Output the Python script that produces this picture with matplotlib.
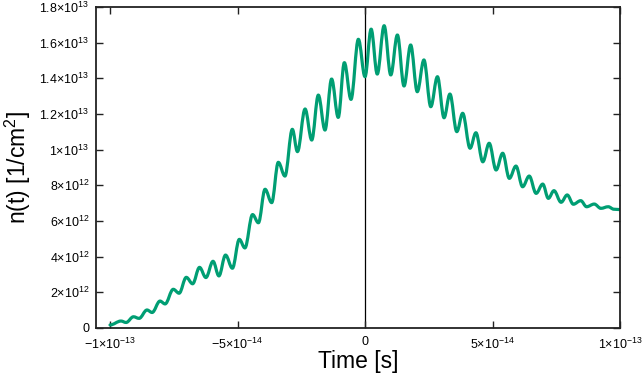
#!/usr/bin/python

"""
n(t) vs time, redrawn in gnuplot look
"""

import matplotlib
matplotlib.use("Agg")
import matplotlib.pyplot as plt
from matplotlib.path import Path
from matplotlib.patches import PathPatch
import numpy as np

plt.rcParams['font.family'] = ['Liberation Sans', 'DejaVu Sans']
plt.rcParams['mathtext.fontset'] = 'custom'
plt.rcParams['mathtext.rm'] = 'Liberation Sans'
plt.rcParams['mathtext.it'] = 'Liberation Sans:italic'
plt.rcParams['mathtext.bf'] = 'Liberation Sans:bold'

# time in units of 1e-13 s, density in units of 1e12 1/cm^2 (extrema)
t = [-1.000, -0.957, -0.937, -0.908, -0.886, -0.855, -0.835, -0.804, -0.784, -0.752,
     -0.729, -0.701, -0.676, -0.649, -0.624, -0.596, -0.573, -0.547, -0.520, -0.493,
     -0.471, -0.441, -0.418, -0.392, -0.366, -0.340, -0.314, -0.285, -0.265, -0.235,
     -0.209, -0.183, -0.157, -0.131, -0.105, -0.081, -0.055, -0.026, 0.000, 0.024,
     0.048, 0.075, 0.101, 0.127, 0.153, 0.179, 0.205, 0.231, 0.258, 0.284,
     0.310, 0.333, 0.360, 0.383, 0.412, 0.435, 0.462, 0.487, 0.514, 0.540,
     0.566, 0.592, 0.618, 0.644, 0.671, 0.697, 0.719, 0.741, 0.769, 0.793,
     0.817, 0.846, 0.869, 0.899, 0.925, 0.954, 0.976, 1.000]
n = [0.17, 0.39, 0.31, 0.63, 0.54, 1.01, 0.87, 1.51, 1.35, 2.17,
     1.95, 2.84, 2.48, 3.40, 2.83, 3.74, 2.92, 4.09, 3.35, 4.97,
     4.49, 6.36, 5.90, 7.78, 7.03, 9.29, 8.52, 11.14, 9.89, 12.28,
     10.54, 13.06, 11.10, 13.96, 11.81, 14.88, 12.82, 16.19, 14.09, 16.76,
     14.24, 16.95, 14.19, 16.43, 13.57, 15.87, 13.25, 15.03, 12.41, 14.09,
     11.79, 13.12, 11.01, 12.04, 10.08, 10.95, 9.32, 10.36, 8.86, 9.80,
     8.39, 9.08, 7.92, 8.52, 7.55, 8.07, 7.27, 7.70, 7.05, 7.46,
     6.94, 7.14, 6.80, 6.95, 6.71, 6.80, 6.66, 6.64]

xticks = [-1e-13, -5e-14, 0, 5e-14, 1e-13]
xticklabels = [r'$\mathregular{-1{\times}10^{-13}}$', r'$\mathregular{-5{\times}10^{-14}}$', '0',
               r'$\mathregular{5{\times}10^{-14}}$', r'$\mathregular{1{\times}10^{-13}}$']
yticks = [0, 2e12, 4e12, 6e12, 8e12, 1e13, 1.2e13, 1.4e13, 1.6e13, 1.8e13]
yticklabels = ['0', r'$\mathregular{2{\times}10^{12}}$', r'$\mathregular{4{\times}10^{12}}$',
               r'$\mathregular{6{\times}10^{12}}$', r'$\mathregular{8{\times}10^{12}}$',
               r'$\mathregular{1{\times}10^{13}}$', r'$\mathregular{1.2{\times}10^{13}}$',
               r'$\mathregular{1.4{\times}10^{13}}$', r'$\mathregular{1.6{\times}10^{13}}$',
               r'$\mathregular{1.8{\times}10^{13}}$']


def smooth_path(x, y, k=0.36):
	# cubic bezier between neighbouring extrema, flat tangent at each extremum
	verts = [(x[0], y[0])]
	codes = [Path.MOVETO]
	for i in range(len(x) - 1):
		dx = x[i+1] - x[i]
		verts += [(x[i] + k*dx, y[i]), (x[i+1] - k*dx, y[i+1]), (x[i+1], y[i+1])]
		codes += [Path.CURVE4] * 3
	return Path(verts, codes)


fig = plt.figure(figsize=(6.42, 3.79), dpi=100)
ax = fig.add_axes([96/642., 51/379., (620-96)/642., (328-7)/379.])

T = np.array(t) * 1e-13
N = np.array(n) * 1e12
ax.axvline(0, color='black', lw=0.9, zorder=1)
ax.add_patch(PathPatch(smooth_path(T, N), fill=False, edgecolor='#009e73', lw=2.3,
                       joinstyle='round', capstyle='round', zorder=2))

ax.set_xlim(-1.055e-13, 1e-13)
ax.set_ylim(0, 1.8e13)
ax.set_xticks(xticks)
ax.set_xticklabels(xticklabels, fontsize=9)
ax.set_yticks(yticks)
ax.set_yticklabels(yticklabels, fontsize=9)
ax.tick_params(direction='in', length=5, width=1, top=True, right=True, colors='#222222',
               labelcolor='black')
ax.tick_params(axis='x', pad=6)
ax.tick_params(axis='y', pad=5)
for s in ax.spines.values():
	s.set_linewidth(1.3)
	s.set_color('#222222')

ax.set_xlabel('Time [s]', fontsize=16.5, labelpad=-1)
ax.set_ylabel(r'n(t) [1/cm$^\mathregular{2}$]', fontsize=16.5, labelpad=4)

fig.savefig('out.png', dpi=100)
